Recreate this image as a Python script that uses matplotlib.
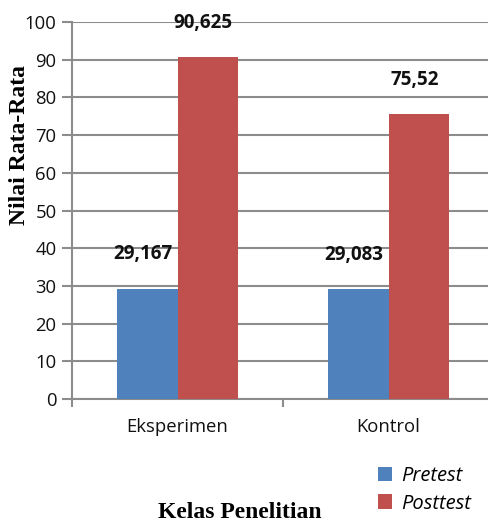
import matplotlib
matplotlib.use("Agg")
import matplotlib.pyplot as plt
import numpy as np

categories = ["Eksperimen", "Kontrol"]
pretest = [29.167, 29.083]
posttest = [90.625, 75.52]
pretest_labels = ["29,167", "29,083"]
posttest_labels = ["90,625", "75,52"]
series_names = ["Pretest", "Posttest"]

blue = "#4F81BD"
red = "#C0504D"
grid_c = "#8C8C8C"
sans = ["Open Sans", "DejaVu Sans"]
serif = ["Liberation Serif", "DejaVu Serif"]

W, H = 488, 524
fig = plt.figure(figsize=(W / 100, H / 100), dpi=100)
ax = fig.add_axes([72 / W, 1 - 399 / H, (488 - 72) / W, (399 - 22) / H])

x = np.arange(len(categories))
bw = 0.285
b1 = ax.bar(x - bw / 2, pretest, bw, color=blue, zorder=3, label=series_names[0])
b2 = ax.bar(x + bw / 2, posttest, bw, color=red, zorder=3, label=series_names[1])

for bars, labels in ((b1, pretest_labels), (b2, posttest_labels)):
    for r, t in zip(bars, labels):
        ax.annotate(t, (r.get_x() + r.get_width() / 2, r.get_height()),
                    xytext=(-3, 25), textcoords="offset points",
                    ha="center", va="center", fontsize=13.5, fontweight="bold",
                    family=sans, color="#111111")

ax.set_ylim(0, 100)
ax.set_yticks(np.arange(0, 101, 10))
ax.set_xlim(-0.5, 0.5 + (488 - 283) / 211)
ax.set_xticks(x)
ax.set_xticklabels(categories)
ax.set_xticks([-0.5, 0.5], minor=True)
ax.tick_params(axis="x", which="major", length=0, pad=14)
ax.tick_params(axis="x", which="minor", length=6, width=1.5, color=grid_c)
ax.tick_params(axis="y", length=7, width=1.5, color=grid_c, pad=4)
for lab in ax.get_xticklabels() + ax.get_yticklabels():
    lab.set_fontfamily(sans)
    lab.set_fontsize(13.3)
    lab.set_color("#111111")

ax.grid(axis="y", color=grid_c, linewidth=1.5, zorder=0)
for s in ("top", "right"):
    ax.spines[s].set_visible(False)
for s in ("left", "bottom"):
    ax.spines[s].set_color(grid_c)
    ax.spines[s].set_linewidth(1.5)

fig.text(20 / W, 1 - 145 / H, "Nilai Rata-Rata", rotation=90, ha="center", va="center",
         fontsize=17, fontweight="bold", family=serif)
fig.text(240 / W, 1 - 512 / H, "Kelas Penelitian", ha="center", va="center",
         fontsize=17, fontweight="bold", family=serif)

leg = fig.legend(handles=[b1, b2], loc="center left", bbox_to_anchor=(368 / W, 1 - 490 / H),
                 frameon=False, prop={"family": sans, "style": "italic", "size": 14.5},
                 handlelength=0.7, handleheight=0.7, handletextpad=0.45, labelspacing=0.35,
                 borderpad=0)

fig.savefig("out.png", dpi=100)
